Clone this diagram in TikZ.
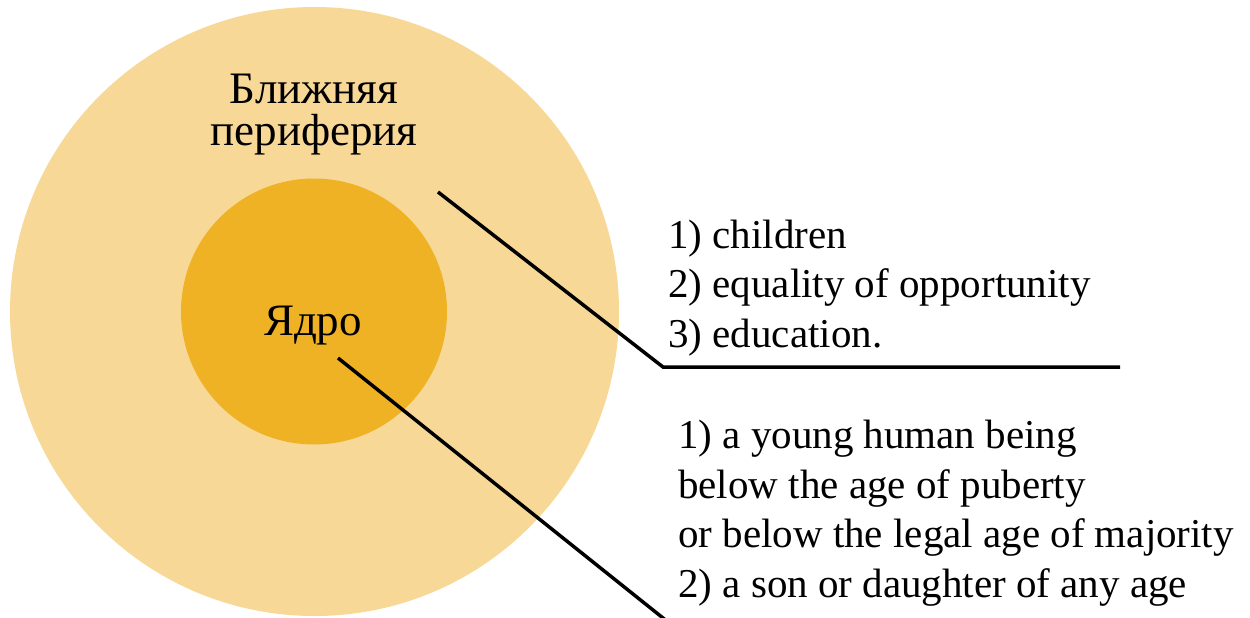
\documentclass[tikz,border=0pt]{standalone}
\usepackage{fontspec}
\setmainfont{Liberation Serif}
\definecolor{periColor}{HTML}{F7D896}
\definecolor{coreColor}{HTML}{F0B225}
\begin{document}
\begin{tikzpicture}[x=1pt,y=-1pt,
        listtext/.style={inner sep=0pt, anchor=base west, align=left, font=\fontsize{41}{49.5}\selectfont},
        pointer/.style={line width=3.5pt}]
        \useasboundingbox (0,0) rectangle (1250,618);

        % Circles
        \fill[periColor] (314.5,311.5) circle (304.5);  % Near periphery
        \fill[coreColor] (314,311.5) circle (133);  % Core

        % Circle captions (base = last line)
        \node[inner sep=0pt, anchor=base, align=center, font=\fontsize{45}{42}\selectfont] (periphery) at (314,145) {Ближняя\\периферия};
        \node[inner sep=0pt, anchor=base, font=\fontsize{45}{54}\selectfont] (core) at (313,335) {Ядро};

        % Pointer from the periphery
        \coordinate (p1) at (438,192);
        \coordinate (k1) at (663,367);
        \coordinate (e1) at (1120,367);
        \draw[pointer] (p1) -- (k1) -- (e1);

        % Pointer from the core
        \coordinate (p2) at (338,358);
        \coordinate (e2) at (668,622);
        \draw[pointer] (p2) -- (e2);

        % Lists (base = last line)
        \node[listtext] (periList) at (668,347) {1) children\\2) equality of opportunity\\3) education.};
        \node[listtext] (coreList) at (678,597) {1) a young human being\\below the age of puberty\\or below the legal age of majority\\2) a son or daughter of any age};
    \end{tikzpicture}
\end{document}
